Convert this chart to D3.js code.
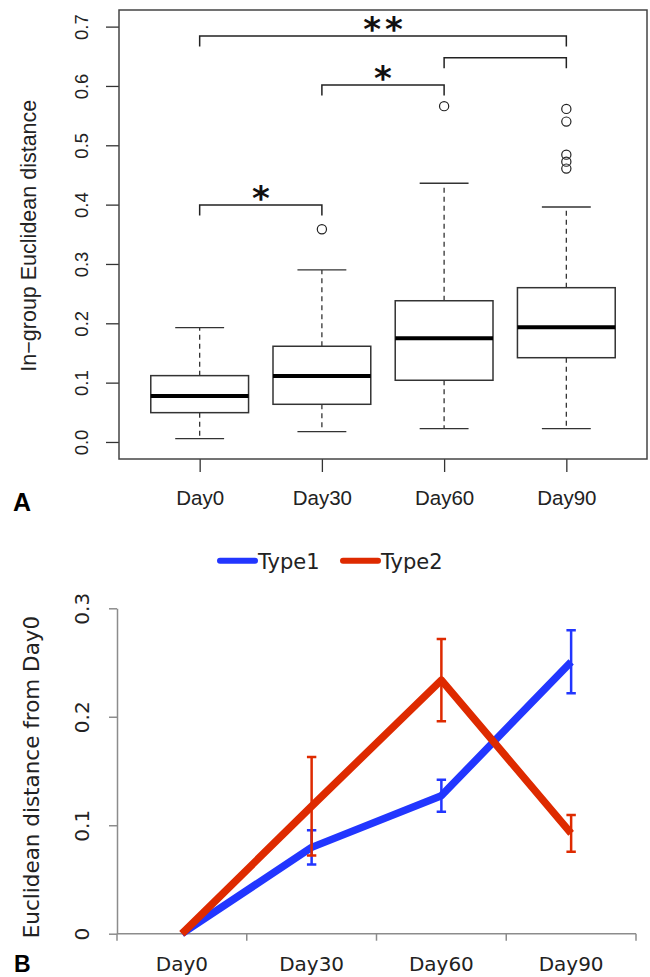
<!DOCTYPE html>
<html><head><meta charset="utf-8">
<script src="https://cdn.jsdelivr.net/npm/d3@7"></script>
<style>body{margin:0;background:#fff} svg{display:block}</style>
</head><body><svg id="c" width="650" height="977"></svg>
<script>
// ---------- Data ----------
const categories = ["Day0", "Day30", "Day60", "Day90"];
// Panel A: box plot summary
const whiskerLow  = [0.0056, 0.0174, 0.0225, 0.0225];
const q1          = [0.0494, 0.0635, 0.1040, 0.1420];
const median      = [0.0775, 0.1112, 0.1748, 0.1933];
const q3          = [0.1118, 0.1613, 0.2380, 0.2600];
const whiskerHigh = [0.1927, 0.2900, 0.4360, 0.3960];
const outliers    = [[], [0.3585], [0.566], [0.5613, 0.5399, 0.4842, 0.4724, 0.4607]];
const yTicksTop   = [0, 0.1, 0.2, 0.3, 0.4, 0.5, 0.6, 0.7];
const bracketFrom = [0, 1, 2, 0];
const bracketTo   = [3, 2, 3, 1];
const bracketY    = [0.6843, 0.6017, 0.6477, 0.3995];
const bracketLab  = ["**", "*", "", "*"];
// Panel B: line chart with error bars
const seriesNames = ["Type1", "Type2"];
const type1 = [0, 0.0796, 0.1272, 0.2507];
const err1  = [0, 0.0157, 0.0147, 0.0290];
const type2 = [0, 0.1175, 0.2338, 0.0925];
const err2  = [0, 0.0455, 0.0380, 0.0170];
const yTicksBottom = [0, 0.1, 0.2, 0.3];
const yTickLabelsBottom = ["0", "0.1", "0.2", "0.3"];

const svg = d3.select("#c");
const rFont = "'Liberation Sans', Arial, Helvetica, sans-serif";
const vFont = "'DejaVu Sans', Verdana, sans-serif";

// ---------- Panel A ----------
const xTop = d3.scaleLinear().domain([0.34, 4.66]).range([119, 647]);
const yTop = d3.scaleLinear().domain([-0.0287, 0.728]).range([459, 10]);
const gA = svg.append("g");

const yAx = gA.append("g").attr("transform", "translate(119,0)")
  .call(d3.axisLeft(yTop).tickValues(yTicksTop).tickFormat(d3.format(".1f")).tickSize(13));
yAx.select(".domain").remove();
yAx.selectAll("line").attr("stroke", "#333").attr("stroke-width", 1.3);
yAx.selectAll("text").attr("x", null).attr("dy", null)
  .attr("transform", "translate(-31.5,0) rotate(-90)").attr("text-anchor", "middle")
  .style("font-family", rFont).style("font-size", "18.5px").attr("fill", "#222");

const xAx = gA.append("g").attr("transform", "translate(0,459)")
  .call(d3.axisBottom(xTop).tickValues([1, 2, 3, 4]).tickFormat((d, i) => categories[i]).tickSize(13));
xAx.select(".domain").remove();
xAx.selectAll("line").attr("stroke", "#333").attr("stroke-width", 1.3);
xAx.selectAll("text").attr("y", 46).attr("dy", null)
  .style("font-family", rFont).style("font-size", "20.5px").attr("fill", "#222");

const boxHalf = 0.4, capHalf = 0.2;
categories.forEach((c, i) => {
  const x = i + 1;
  const g = gA.append("g");
  g.append("line").attr("x1", xTop(x)).attr("x2", xTop(x))
    .attr("y1", yTop(q3[i])).attr("y2", yTop(whiskerHigh[i]))
    .attr("stroke", "#333").attr("stroke-width", 1.3).attr("stroke-dasharray", "5,4");
  g.append("line").attr("x1", xTop(x)).attr("x2", xTop(x))
    .attr("y1", yTop(q1[i])).attr("y2", yTop(whiskerLow[i]))
    .attr("stroke", "#333").attr("stroke-width", 1.3).attr("stroke-dasharray", "5,4");
  [whiskerHigh[i], whiskerLow[i]].forEach(v => {
    g.append("line").attr("x1", xTop(x - capHalf)).attr("x2", xTop(x + capHalf))
      .attr("y1", yTop(v)).attr("y2", yTop(v)).attr("stroke", "#333").attr("stroke-width", 1.4);
  });
  g.append("rect").attr("x", xTop(x - boxHalf)).attr("width", xTop(x + boxHalf) - xTop(x - boxHalf))
    .attr("y", yTop(q3[i])).attr("height", yTop(q1[i]) - yTop(q3[i]))
    .attr("fill", "#fff").attr("stroke", "#333").attr("stroke-width", 1.5);
  g.append("line").attr("x1", xTop(x - boxHalf)).attr("x2", xTop(x + boxHalf))
    .attr("y1", yTop(median[i])).attr("y2", yTop(median[i]))
    .attr("stroke", "#000").attr("stroke-width", 4);
  outliers[i].forEach(v => {
    g.append("circle").attr("cx", xTop(x)).attr("cy", yTop(v)).attr("r", 4.6)
      .attr("fill", "none").attr("stroke", "#222").attr("stroke-width", 1.2);
  });
});

gA.append("rect").attr("x", 119).attr("y", 10).attr("width", 528).attr("height", 449)
  .attr("fill", "none").attr("stroke", "#444").attr("stroke-width", 1.5);

const drop = 0.018;
bracketY.forEach((v, k) => {
  const x1 = xTop(bracketFrom[k] + 1), x2 = xTop(bracketTo[k] + 1);
  gA.append("path")
    .attr("d", `M${x1},${yTop(v - drop)}V${yTop(v)}H${x2}V${yTop(v - drop)}`)
    .attr("fill", "none").attr("stroke", "#222").attr("stroke-width", 1.5);
  if (bracketLab[k]) {
    gA.append("text").attr("x", (x1 + x2) / 2 + 2).attr("y", yTop(v) + 5)
      .attr("text-anchor", "middle")
      .style("font-family", vFont).style("font-weight", "bold").style("font-size", "34px")
      .style("letter-spacing", "4px")
      .attr("fill", "#111").text(bracketLab[k]);
  }
});

gA.append("text").attr("transform", "translate(35.5,235.7) rotate(-90)").attr("text-anchor", "middle")
  .style("font-family", rFont).style("font-size", "21.5px").attr("fill", "#222")
  .text("In\u2212group Euclidean distance");
gA.append("text").attr("x", 13).attr("y", 511)
  .style("font-family", rFont).style("font-weight", "bold").style("font-size", "25px")
  .attr("fill", "#000").text("A");

// ---------- Panel B ----------
const xBot = d3.scaleBand().domain(categories).range([117, 636]);
const yBot = d3.scaleLinear().domain([0, 0.3]).range([933.7, 608.3]);
const gB = svg.append("g");
const axisGray = "#8c8c8c";
const cx = c => xBot(c) + xBot.bandwidth() / 2;

const yAxB = gB.append("g").attr("transform", "translate(117,0)")
  .call(d3.axisLeft(yBot).tickValues(yTicksBottom).tickFormat((d, i) => yTickLabelsBottom[i]).tickSize(8).tickSizeOuter(0));
yAxB.select(".domain").attr("stroke", axisGray).attr("stroke-width", 1.5);
yAxB.selectAll("line").attr("stroke", axisGray).attr("stroke-width", 1.5);
yAxB.selectAll("text").attr("x", null).attr("dy", null)
  .attr("transform", "translate(-28,0) rotate(-90)").attr("text-anchor", "middle")
  .style("font-family", vFont).style("font-size", "20px").attr("fill", "#222");

const xr = xBot.range();
gB.append("line").attr("x1", xr[0]).attr("x2", xr[1]).attr("y1", yBot(0)).attr("y2", yBot(0))
  .attr("stroke", axisGray).attr("stroke-width", 1.5);
const bounds = categories.map(c => xBot(c)).concat([xr[1]]);
gB.selectAll(".bt").data(bounds).enter().append("line")
  .attr("x1", d => d).attr("x2", d => d).attr("y1", yBot(0)).attr("y2", yBot(0) + 7)
  .attr("stroke", axisGray).attr("stroke-width", 1.5);
gB.selectAll(".xl").data(categories).enter().append("text")
  .attr("x", d => cx(d)).attr("y", 970.5).attr("text-anchor", "middle")
  .style("font-family", vFont).style("font-size", "20px").attr("fill", "#222").text(d => d);

const colors = ["#2236ff", "#de2a00"];
const seriesVals = [type1, type2];
const seriesErr = [err1, err2];
const line = d3.line().x((d, i) => cx(categories[i])).y(d => yBot(d));
seriesVals.forEach((vals, s) => {
  gB.append("path").datum(vals).attr("d", line).attr("fill", "none")
    .attr("stroke", colors[s]).attr("stroke-width", 7.5).attr("stroke-linejoin", "round");
});
seriesVals.forEach((vals, s) => {
  vals.forEach((v, i) => {
    const e = seriesErr[s][i];
    if (!e) return;
    const x = cx(categories[i]);
    gB.append("path")
      .attr("d", `M${x},${yBot(v + e)}V${yBot(v - e)}M${x - 4.7},${yBot(v + e)}H${x + 4.7}M${x - 4.7},${yBot(v - e)}H${x + 4.7}`)
      .attr("fill", "none").attr("stroke", colors[s]).attr("stroke-width", 2.5);
  });
});

const legX = [218, 341];
seriesNames.forEach((n, s) => {
  gB.append("line").attr("x1", legX[s] + 2).attr("x2", legX[s] + 37).attr("y1", 560.7).attr("y2", 560.7)
    .attr("stroke", colors[s]).attr("stroke-width", 6).attr("stroke-linecap", "round");
  gB.append("text").attr("x", legX[s] + 40).attr("y", 569)
    .style("font-family", vFont).style("font-size", "21px").attr("fill", "#222").text(n);
});

gB.append("text").attr("transform", "translate(38.5,777) rotate(-90)").attr("text-anchor", "middle")
  .style("font-family", vFont).style("font-size", "21.5px").attr("fill", "#222")
  .text("Euclidean distance from Day0");
gB.append("text").attr("x", 14).attr("y", 972)
  .style("font-family", rFont).style("font-weight", "bold").style("font-size", "23px")
  .attr("fill", "#000").text("B");
</script></body></html>
